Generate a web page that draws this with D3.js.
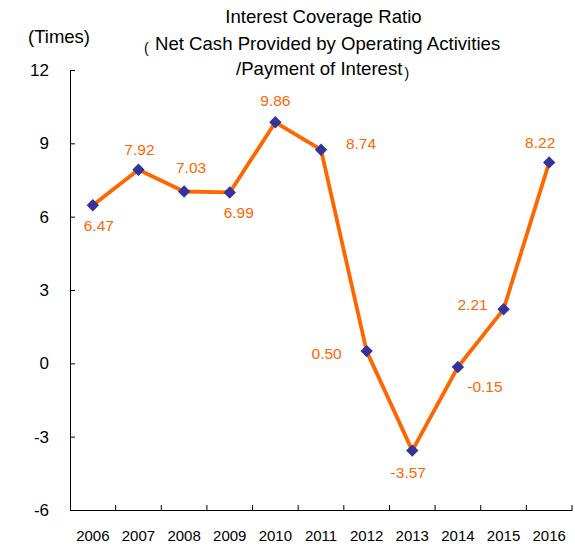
<!DOCTYPE html>
<html>
<head>
<meta charset="utf-8">
<script src="https://cdn.jsdelivr.net/npm/d3@7"></script>
<style>
  body { margin: 0; background: #fff; }
  svg text { font-family: "Liberation Sans", Arial, sans-serif; }
</style>
</head>
<body>
<svg id="chart" width="575" height="547"></svg>
<script>
const years = ["2006", "2007", "2008", "2009", "2010", "2011", "2012", "2013", "2014", "2015", "2016"];
const ratios = [6.47, 7.92, 7.03, 6.99, 9.86, 8.74, 0.50, -3.57, -0.15, 2.21, 8.22];
const yTicks = [-6, -3, 0, 3, 6, 9, 12];
// where each value label sits relative to its point
const labelShift = [[6, 20], [1, -20], [7, -24], [9, 20], [0, -22], [40, -6], [-40, 2], [-4, 22], [27, 19], [-31, -5], [-9, -20]];

const margin = { top: 70, right: 3, bottom: 37, left: 70 };
const width = 575, height = 547;
const orange = "#ff6600";

const svg = d3.select("#chart");

const x = d3.scaleBand().domain(years).range([margin.left, width - margin.right]);
const y = d3.scaleLinear().domain([-6, 12]).range([height - margin.bottom, margin.top]);

// y axis, ticks pointing inward
const yAxis = svg.append("g")
    .attr("transform", `translate(${margin.left},0)`)
    .call(d3.axisLeft(y).tickValues(yTicks).tickFormat(d => String(d)).tickSize(-5).tickPadding(21).tickSizeOuter(0));
yAxis.selectAll("text").attr("font-size", 17).attr("fill", "#000").style("font-family", "Liberation Sans, Arial");
yAxis.select(".domain").attr("stroke", "#000");
yAxis.selectAll(".tick line").attr("stroke", "#000");

// x axis labels at band centres, ticks at band edges
const xAxis = svg.append("g")
    .attr("transform", `translate(0,${y(-6)})`)
    .call(d3.axisBottom(x).tickSize(0).tickPadding(20).tickSizeOuter(0));
xAxis.selectAll("text").attr("font-size", 15).attr("fill", "#000").style("font-family", "Liberation Sans, Arial");
xAxis.select(".domain").attr("stroke", "#000");

svg.append("g")
    .selectAll("line")
    .data(years)
    .join("line")
    .attr("x1", d => x(d) + x.bandwidth())
    .attr("x2", d => x(d) + x.bandwidth())
    .attr("y1", y(-6))
    .attr("y2", y(-6) - 5)
    .attr("stroke", "#000");

const px = (d, i) => x(years[i]) + x.bandwidth() / 2;

const line = d3.line()
    .x(px)
    .y(d => y(d));

svg.append("path")
    .datum(ratios)
    .attr("fill", "none")
    .attr("stroke", orange)
    .attr("stroke-width", 3.8)
    .attr("stroke-linejoin", "round")
    .attr("d", line);

svg.append("g")
    .selectAll("path")
    .data(ratios)
    .join("path")
    .attr("d", "M0,-6.2L6.2,0L0,6.2L-6.2,0Z")
    .attr("fill", "#333399")
    .attr("transform", (d, i) => `translate(${px(d, i)},${y(d)})`);

svg.append("g")
    .selectAll("text")
    .data(ratios)
    .join("text")
    .attr("x", (d, i) => px(d, i) + labelShift[i][0])
    .attr("y", (d, i) => y(d) + labelShift[i][1])
    .attr("dy", "0.36em")
    .attr("text-anchor", "middle")
    .attr("font-size", 15.5)
    .attr("fill", orange)
    .text(d => d.toFixed(2));

// titles
svg.append("text")
    .attr("x", 28).attr("y", 43)
    .attr("font-size", 18.5)
    .text("(Times)");

svg.append("text")
    .attr("x", 323.5).attr("y", 23)
    .attr("text-anchor", "middle")
    .attr("font-size", 18.6)
    .text("Interest Coverage Ratio");

const t2 = svg.append("text")
    .attr("y", 49.5)
    .attr("font-size", 18.6);
t2.append("tspan").attr("x", 144).attr("font-size", 14).attr("dy", 3).text("(");
t2.append("tspan").attr("x", 155).attr("dy", -3).text("Net Cash Provided by Operating Activities");

const t3 = svg.append("text")
    .attr("x", 236).attr("y", 75)
    .attr("font-size", 18.6);
t3.append("tspan").text("/Payment of Interest");
t3.append("tspan").attr("font-size", 14).attr("dx", 2).attr("dy", 3).text(")");
</script>
</body>
</html>
